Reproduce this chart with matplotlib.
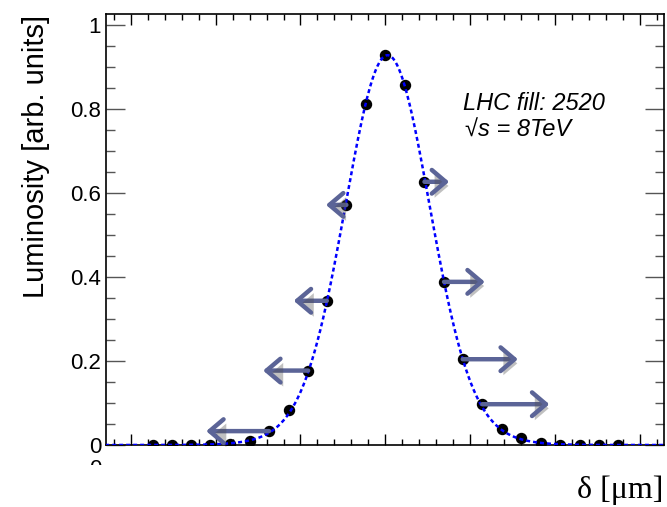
import matplotlib
matplotlib.use("Agg")
import matplotlib.pyplot as plt
import matplotlib.patheffects as pe
import numpy as np
from matplotlib.patches import Rectangle
from matplotlib.ticker import MultipleLocator, FuncFormatter

# vdM scan points: beam separation (um) and normalised luminosity
separation = [-274, -251, -229, -206, -183, -160, -137, -114, -91, -69, -46, -23, 0,
              23, 46, 69, 91, 114, 137, 160, 183, 206, 229, 251, 274]
luminosity = [0.0, 0.0, 0.0, 0.0, 0.002, 0.010, 0.033, 0.084, 0.177, 0.343, 0.571, 0.812, 0.927,
              0.855, 0.626, 0.388, 0.204, 0.097, 0.039, 0.016, 0.004, 0.0, 0.0, 0.0, 0.0]

# shifted points (index into the scan) and length of the shift arrow (um)
arrow_index = [6, 8, 9, 10, 14, 15, 16, 17]
arrow_shift = [-74, -53, -39, -24, 29, 48, 65, 79]

# fitted (double gaussian) shape drawn as the dotted line
fit_amplitude = 0.927
fit_mean = 2.5
fit_sigma_core = 48.0
fit_sigma_tail = 68.5
fit_core_fraction = 0.85

ARROW = "#5b6497"

plt.rcParams["font.family"] = ["Liberation Sans", "DejaVu Sans"]

fig = plt.figure(figsize=(6.67, 5.07), dpi=100)
ax = fig.add_axes([106 / 667, 62 / 507, 558 / 667, 431 / 507])

x_fit = np.linspace(-330, 330, 600)
y_fit = fit_amplitude * (
    fit_core_fraction * np.exp(-0.5 * ((x_fit - fit_mean) / fit_sigma_core) ** 2)
    + (1 - fit_core_fraction) * np.exp(-0.5 * ((x_fit - fit_mean) / fit_sigma_tail) ** 2)
)

ax.plot(separation, luminosity, "o", color="black", markersize=7.2, zorder=3)
ax.plot(x_fit, y_fit, color="#0000ff", linewidth=1.8, linestyle=(0, (1.6, 1.2)), zorder=4)

shadow = [pe.SimplePatchShadow(offset=(2, -3), shadow_rgbFace="0.3", alpha=0.35), pe.Normal()]
for idx, shift in zip(arrow_index, arrow_shift):
    x0, y0 = separation[idx], luminosity[idx]
    ax.annotate(
        "",
        xy=(x0 + shift, y0),
        xytext=(x0, y0),
        arrowprops=dict(
            arrowstyle="->, head_length=1.0, head_width=0.85",
            mutation_scale=10,
            color=ARROW,
            lw=3.2,
            shrinkA=0,
            shrinkB=0,
            path_effects=shadow,
        ),
        zorder=5,
    )

ax.set_xlim(-329, 328)
ax.set_ylim(0, 1.025)

ax.xaxis.set_major_locator(MultipleLocator(100))
ax.xaxis.set_minor_locator(MultipleLocator(20))
ax.yaxis.set_major_locator(MultipleLocator(0.2))
ax.yaxis.set_minor_locator(MultipleLocator(0.05))
ax.yaxis.set_major_formatter(FuncFormatter(lambda v, pos: f"{v:g}"))
ax.set_xticklabels([])

ax.tick_params(axis="both", which="both", direction="in", top=True, right=True, width=1)
ax.tick_params(axis="x", which="major", length=8, labelbottom=False)
ax.tick_params(axis="x", which="minor", length=4)
ax.tick_params(axis="y", which="major", length=13.5, color="#555555", labelsize=16, pad=3.6)
ax.tick_params(axis="y", which="minor", length=6.5, color="#555555")
for spine in ax.spines.values():
    spine.set_linewidth(1.2)

ax.text(463 / 667, 1 - 110 / 507, "LHC fill: 2520", transform=fig.transFigure,
        fontsize=17, style="italic", va="baseline")
ax.text(465 / 667, 1 - 137 / 507, "\u221as = 8TeV", transform=fig.transFigure,
        fontsize=17, style="italic", va="baseline")

fig.text(36 / 667, 1 - 156 / 507, "Luminosity [arb. units]", rotation=90,
         fontsize=21, ha="center", va="center")
fig.text(663 / 667, 1 - 498 / 507, "\u03b4 [\u03bcm]", fontsize=23, ha="right", va="baseline",
         family=["Liberation Serif", "DejaVu Serif"])

# clipped remains of a tick label below the frame
fig.text(101 / 667, 1 - 475 / 507, "0", fontsize=16, ha="right", va="baseline")
fig.patches.append(Rectangle((0, 0), 104 / 667, 1 - 465 / 507, transform=fig.transFigure,
                             facecolor="white", edgecolor="none", zorder=10))

fig.savefig("out.png", dpi=100)
